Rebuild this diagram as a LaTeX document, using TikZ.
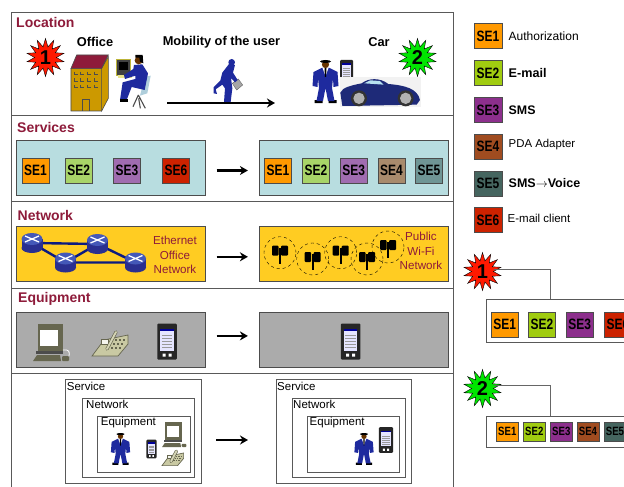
\documentclass[tikz,border=0pt]{standalone}
\usepackage{fontspec}
\setmainfont{Liberation Sans}
\newfontfamily\sefont[FakeStretch=0.8]{Liberation Sans}
\usetikzlibrary{arrows.meta,shapes.geometric}
\newcommand\fsz[1]{\fontsize{#1}{#1}\selectfont}
\definecolor{titleRed}{HTML}{8E1B3A}
\definecolor{suitBlue}{HTML}{1E2A9E}
\definecolor{routerBlue}{HTML}{2A2F8F}
\definecolor{routerTop}{HTML}{4458B8}
\definecolor{linkBlue}{HTML}{0C1A80}
\definecolor{carBlue}{HTML}{1E2A78}
\definecolor{brick}{HTML}{CC9900}
\definecolor{paleCyan}{HTML}{B8DDE0}
\definecolor{netYellow}{HTML}{FFCC22}
\definecolor{equipGray}{HTML}{ABABAB}
\definecolor{olive}{HTML}{66664F}
\definecolor{phoneTan}{HTML}{C9C9A3}
\definecolor{seOrange}{HTML}{FF9900}
\definecolor{seGreen}{HTML}{A0CC10}
\definecolor{sePurple}{HTML}{8C2F8C}
\definecolor{seBrown}{HTML}{A04C20}
\definecolor{seTeal}{HTML}{45655F}
\definecolor{seRed}{HTML}{CC2200}
\definecolor{paleGreen}{HTML}{A8D468}
\definecolor{palePurple}{HTML}{A06CB0}
\definecolor{paleBrown}{HTML}{A88A6C}
\definecolor{paleTeal}{HTML}{6F9595}
\tikzset{
    section/.style = {draw = black!65, minimum width = 441.5pt, inner sep = 0pt, outer sep = 0pt},
    panel/.style = {draw = black!70, minimum width = 189.2pt, minimum height = 55.4pt, inner sep = 0pt, outer sep = 0pt},
    nestbox/.style = {draw = black!65, inner sep = 0pt, outer sep = 0pt},
    sebox/.style = {draw = black!70, minimum width = 27pt, minimum height = 25pt, inner sep = 0pt,
        font = \sefont\bfseries\fsz{15}},
    smallse/.style = {draw = black!70, minimum width = 22pt, minimum height = 19pt, inner sep = 0pt,
        font = \sefont\bfseries\fsz{12}},
    heading/.style = {anchor = west, inner sep = 0pt, text = titleRed, font = \bfseries\fsz{14}},
    caption/.style = {inner sep = 0pt, font = \bfseries\fsz{12.8}},
    legend/.style = {anchor = west, inner sep = 0pt},
    nestlabel/.style = {anchor = west, inner sep = 0pt, font = \fsz{11.5}},
    nettext/.style = {align = center, inner sep = 0pt, text = titleRed, font = \fontsize{11.6}{14.6}\selectfont},
    burst/.style = {star, star points = 14, star point ratio = 1.75, minimum size = 38pt, inner sep = 0pt,
        draw = black, font = \bfseries\fsz{20}},
    flow/.style = {line width = 2.6pt, -{Stealth[length = 8pt, width = 9pt]}, shorten > = 11pt, shorten < = 11pt},
    cell/.style = {circle, draw, dashed, minimum size = 32pt, inner sep = 0pt},
    netlink/.style = {linkBlue, line width = 2.4pt},
    callout/.style = {draw = black!60, line width = .7pt},
    bluman/.pic = {
        \fill[black] (-11, 40) rectangle (-3, 43) (3, 40) rectangle (11, 43);
        \fill[suitBlue]
            (-4, 8) -- (4, 8) -- (12, 12) -- (13, 26) -- (8, 27) -- (7.5, 18) -- (6.5, 28) -- (9, 41)
            -- (2.5, 41) -- (0, 28) -- (-2.5, 41) -- (-9, 41) -- (-6.5, 28) -- (-7.5, 18) -- (-8, 27)
            -- (-13, 26) -- (-12, 12) -- cycle;
        \fill[white] (-3, 8) -- (3, 8) -- (0, 16) -- cycle;
        \fill[black] (-1, 8) -- (1, 8) -- (.5, 17) -- (-.5, 17) -- cycle;
        \fill[black!60!orange] (0, 4.5) circle [radius = 3.6];
        \fill[black] (0, 1.5) ellipse [x radius = 5.5, y radius = 1.5];
    },
    handheld/.pic = {
        \fill[black!85, rounded corners = 1pt] (-6.5, -12) rectangle (6.5, 12);
        \fill[blue!10!white] (-4.5, -8.5) rectangle (4.5, 6);
        \fill[blue!60!black] (-4.5, -8.5) rectangle (4.5, -7);
        \foreach \rowy in {-4, -2, 0, 2, 4}
            \draw[black!40, line width = .3pt] (-3.5, \rowy) -- (3.5, \rowy);
        \fill[white] (-3, 8) rectangle (-1, 10) (1, 8) rectangle (3, 10);
    },
    desktop/.pic = {
        \fill[olive] (5, 0) rectangle (30, 27);
        \fill[white] (7, 6) rectangle (25, 22);
        \fill[black!70] (3, 27) rectangle (30, 30);
        \fill[olive] (0, 37) -- (4, 31) -- (27, 31) -- (28, 37) -- cycle;
        \draw[white, line width = .8pt] (30, 26) .. controls (36, 25) and (37, 28) .. (36, 32);
        \fill[olive, rounded corners = 1pt] (29, 32) rectangle (36, 37);
    },
    deskphone/.pic = {
        \fill[phoneTan, draw = olive, line width = .7pt]
            (0, 26) -- (12, 10) -- (36, 5) -- (36, 14) -- (26, 26) -- cycle;
        \foreach \keyx in {19, 23, 27, 31}
            \foreach \keyy in {10, 14, 18}
                \fill[olive] (\keyx - \keyy * .5 + 5, \keyy - .7) rectangle ++(2.3, 1.4);
        \fill[white!80!phoneTan, draw = olive, line width = .4pt] (9, 9) rectangle (16, 14);
        \draw[olive, line width = 3.2pt, line cap = round] (15, 19) -- (24, 2);
        \draw[phoneTan!80!white, line width = 1.9pt, line cap = round] (15, 19) -- (24, 2);
    },
    router/.pic = {
        \fill[routerBlue] (-10.5, -4) rectangle (10.5, 5);
        \fill[routerBlue] (0, 5) ellipse [x radius = 10.5, y radius = 5];
        \fill[routerTop] (0, -4) ellipse [x radius = 10.5, y radius = 6];
        \draw[white, line width = 1.3pt] (-7, -7) -- (7, -1) (-7, -1) -- (7, -7);
    },
    antenna/.pic = {
        \fill[black, rounded corners = 1pt] (-8, -7) rectangle (-1.5, 3) (1, -7) rectangle (8, 3);
        \draw[black, line width = 1.6pt] (0, -5) -- (0, 11);
    },
}
\begin{document}
\begin{tikzpicture}[x = 1pt, y = -1pt]
    \clip (0, 0) rectangle (624, 487);
    \fill[white] (0, 0) rectangle (624, 487);

    % sections of the left column
    \node[section, minimum height = 103.5pt] (secLocation) at (232.25, 63.75) {};
    \node[section, minimum height = 85.5pt] (secServices) at (232.25, 158.25) {};
    \node[section, minimum height = 87pt] (secNetwork) at (232.25, 244.5) {};
    \node[section, minimum height = 85pt] (secEquipment) at (232.25, 330.5) {};
    \node[section, minimum height = 137pt] (secNested) at (232.25, 441.5) {};
    \node[heading] (titleLocation) at (16, 22.5) {Location};
    \node[heading] (titleServices) at (17, 127) {Services};
    \node[heading] (titleNetwork) at (17.5, 215.5) {Network};
    \node[heading] (titleEquipment) at (18, 299) {Equipment};

    % location
    \node[burst, fill = red!80!orange] (burstOffice) at (45.5, 57.5) {1};
    \node[burst, fill = green!90!black] (burstCar) at (417.5, 57.5) {2};
    \node[caption] (lblOffice) at (95, 42) {Office};
    \node[caption] (lblMobility) at (221.5, 42) {Mobility of the user};
    \node[caption] (lblCar) at (379, 42) {Car};
    \begin{scope}[shift = {(60, 45)}, x = .3333pt, y = -.3333pt]
        \fill[brick, draw = black!70, line width = .6pt]
            (33, 70) -- (125, 70) -- (125, 198) -- (33, 198) -- cycle
            (125, 70) -- (145, 35) -- (145, 160) -- (125, 198) -- cycle;
        \fill[titleRed, draw = black!70, line width = .6pt] (33, 70) -- (50, 30) -- (145, 30) -- (125, 70) -- cycle;
        \draw[black!70, line width = .6pt] (68, 198) -- (68, 163) -- (88, 163) -- (88, 198);
        \foreach \rowy in {88, 108, 128}
            \foreach \colx in {42, 62, 82, 102}
                \draw[black!70, line width = .5pt] (\colx, \rowy - 8) -- (\colx, \rowy) -- (\colx + 11, \rowy);
        % seated user
        \fill[black!75, draw = black!30!yellow, line width = .5pt] (170, 42) rectangle (210, 92);
        \fill[black] (178, 52) rectangle (205, 75);
        \fill[black!20!yellow!50!white] (175, 90) rectangle (216, 98);
        \fill[cyan!25!white!85!black] (255, 95) -- (272, 92) -- (262, 145) -- (240, 152) -- cycle;
        \draw[black!70, line width = 1.1pt] (235, 150) -- (219, 185) (235, 150) -- (256, 190) (236, 160) -- (241, 190);
        \fill[suitBlue] (222, 60) -- (247, 58) -- (264, 85) -- (254, 135) -- (215, 126) -- (200, 165) -- (180, 165)
            -- (188, 112) -- (226, 102) -- (226, 92) -- (195, 102) -- (192, 90) -- (220, 72) -- cycle;
        \fill[black] (180, 163) rectangle (205, 172);
        \fill[black!60!orange] (236, 46) circle [radius = 12];
        \fill[black] (226, 30) -- (248, 30) -- (250, 55) -- (240, 50) -- (238, 38) -- (226, 38) -- cycle;
    \end{scope}
    \begin{scope}[shift = {(205, 50)}, x = .3333pt, y = -.3333pt]
        \fill[black!35, draw = black!60, line width = .4pt] (82, 100) -- (100, 87) -- (113, 105) -- (95, 120) -- cycle;
        \fill[suitBlue] (72, 42) -- (90, 45) -- (84, 68) -- (98, 90) -- (90, 97) -- (78, 84) -- (82, 115) -- (77, 156)
            -- (57, 156) -- (60, 115) -- (52, 104) -- (32, 118) -- (36, 132) -- (26, 130) -- (26, 112) -- (46, 92)
            -- (52, 68) -- cycle;
        \fill[suitBlue] (80, 37) circle [radius = 10];
    \end{scope}
    \coordinate (mobStart) at (167, 103);
    \coordinate (mobEnd) at (275, 103);
    \draw[line width = 2.6pt, -{Stealth[length = 8pt, width = 9pt]}] (mobStart) -- (mobEnd);
    \pic at (325.5, 60) {bluman};
    \pic at (346.5, 72) {handheld};
    \begin{scope}[shift = {(305, 50)}, x = .3333pt, y = -.3333pt]
        \fill[black!5] (105, 82) rectangle (347, 172);
        \fill[carBlue] (106, 128) .. controls (112, 112) and (140, 106) .. (170, 100)
            .. controls (190, 84) and (225, 82) .. (250, 102)
            .. controls (300, 106) and (338, 116) .. (345, 150)
            -- (335, 164) -- (112, 168) -- cycle;
        \fill[black!15!cyan!30!white] (178, 100) -- (196, 91) -- (225, 93) -- (236, 104) -- cycle;
        \foreach \wheelx in {162, 302} {
            \fill[black!80] (\wheelx, 145) circle [radius = 24];
            \fill[black!30] (\wheelx, 145) circle [radius = 17];
        }
    \end{scope}

    % services
    \node[panel, fill = paleCyan] (servOld) at (111, 167.5) {};
    \node[panel, fill = paleCyan] (servNew) at (353.5, 167.5) {};
    \foreach \idx/\shade/\px in {1/seOrange/35.5, 2/paleGreen/78.7, 3/palePurple/127, 6/seRed/176}
        \node[sebox, fill = \shade] (servOld\idx) at (\px, 170.5) {SE\idx};
    \foreach \idx/\shade/\px in {1/seOrange/278, 2/paleGreen/316, 3/palePurple/353.7, 4/paleBrown/391.5, 5/paleTeal/429}
        \node[sebox, fill = \shade] (servNew\idx) at (\px, 170.5) {SE\idx};
    \draw[flow] ([yshift = -3pt]servOld.east) -- ([yshift = -3pt]servNew.west);

    % network
    \node[panel, fill = netYellow] (netOld) at (111, 253.8) {};
    \node[panel, fill = netYellow] (netNew) at (353.5, 253.8) {};
    \coordinate (routerA) at (32, 243);
    \coordinate (routerB) at (65.5, 262.5);
    \coordinate (routerC) at (97.5, 244);
    \coordinate (routerD) at (135.5, 262.5);
    \draw[netlink] (routerA) -- (routerC) (routerA) -- (routerB) (routerB) -- (routerC)
        (routerB) -- (routerD) (routerC) -- (routerD);
    \foreach \rname in {routerA, routerB, routerC, routerD}
        \pic at (\rname) {router};
    \node[nettext] (lblEthernet) at (175, 255) {Ethernet\\Office\\Network};
    \foreach \cname/\cx/\cy in {cellA/280/252.7, cellB/312.7/259, cellC/340.7/252.7, cellD/367/259, cellE/388/247} {
        \node[cell] (\cname) at (\cx, \cy) {};
        \pic at (\cname) {antenna};
    }
    \node[nettext] (lblPublic) at (421, 251) {Public\\Wi-Fi\\Network};
    \draw[flow] ([yshift = -3pt]netOld.east) -- ([yshift = -3pt]netNew.west);

    % equipment
    \node[panel, fill = equipGray] (equipOld) at (111, 339.4) {};
    \node[panel, fill = equipGray] (equipNew) at (353.5, 339.4) {};
    \pic at (33, 324) {desktop};
    \pic at (92, 330) {deskphone};
    \pic[scale = 1.5] at (167, 341.5) {handheld};
    \pic[scale = 1.5] at (350.5, 341.5) {handheld};
    \draw[flow] ([yshift = 3.5pt]equipOld.east) -- ([yshift = 3.5pt]equipNew.west);

    % nested boxes
    \node[nestbox, minimum width = 135.7pt, minimum height = 104pt] (serviceOld) at (132.85, 431) {};
    \node[nestbox, minimum width = 112.3pt, minimum height = 79.3pt] (networkOld) at (137.85, 437.35) {};
    \node[nestbox, minimum width = 92.7pt, minimum height = 55.7pt] (deviceOld) at (143.35, 443.85) {};
    \node[nestbox, minimum width = 135pt, minimum height = 104pt] (serviceNew) at (343.2, 431) {};
    \node[nestbox, minimum width = 113.3pt, minimum height = 79.3pt] (networkNew) at (348.35, 437.35) {};
    \node[nestbox, minimum width = 92.3pt, minimum height = 55.7pt] (deviceNew) at (353.15, 443.85) {};
    \node[nestlabel] (lblServiceOld) at (66.7, 386) {Service};
    \node[nestlabel] (lblNetworkOld) at (86, 404.7) {Network};
    \node[nestlabel] (lblDeviceOld) at (100.7, 422.3) {Equipment};
    \node[nestlabel] (lblServiceNew) at (277, 386) {Service};
    \node[nestlabel] (lblNetworkNew) at (293, 404.7) {Network};
    \node[nestlabel] (lblDeviceNew) at (309.5, 422.3) {Equipment};
    \pic[scale = .74] at (120.5, 433) {bluman};
    \pic[scale = .78] at (151.5, 449) {handheld};
    \pic[scale = .68] at (162, 422) {desktop};
    \pic[scale = .6] at (162, 450) {deskphone};
    \pic[scale = .74] at (364, 433) {bluman};
    \pic[scale = 1.08] at (386, 440) {handheld};
    \draw[flow, shorten < = 15.3pt, shorten > = 27.7pt] ([yshift = -9pt]serviceOld.east) -- ([yshift = -9pt]serviceNew.west);

    % legend
    \foreach \idx/\shade/\py in {1/seOrange/36, 2/seGreen/73, 3/sePurple/110, 4/seBrown/146.5, 5/seTeal/183.5, 6/seRed/220}
        \node[sebox, fill = \shade, minimum width = 28pt] (legendBox\idx) at (488, \py) {SE\idx};
    \node[legend, font = \fsz{12}] (lblAuth) at (508.5, 36.5) {Authorization};
    \node[legend, font = \bfseries\fsz{12.6}] (lblMail) at (508.5, 73) {E-mail};
    \node[legend, font = \bfseries\fsz{12.4}] (lblSms) at (508.5, 110) {SMS};
    \node[legend, font = \fsz{11.4}] (lblPda) at (508.5, 145) {PDA Adapter};
    \node[legend, font = \bfseries\fsz{12.5}] (lblVoice) at (508.5, 183) {SMS$\rightarrow$Voice};
    \node[legend, font = \fsz{11.5}] (lblClient) at (507.5, 218.5) {E-mail client};

    % bursts with their service sets
    \node[burst, fill = red!80!orange] (burstOne) at (482.5, 271.5) {1};
    \node[burst, fill = green!90!black] (burstTwo) at (482.5, 388.5) {2};
    \node[nestbox, minimum width = 160pt, minimum height = 43pt, anchor = north west] (setOne) at (485.7, 299.3) {};
    \node[nestbox, minimum width = 160pt, minimum height = 31pt, anchor = north west] (setTwo) at (485.7, 415.7) {};
    \foreach \idx/\shade/\px in {1/seOrange/504.7, 2/seGreen/542, 3/sePurple/579.8, 6/seRed/618}
        \node[sebox, fill = \shade] (setOne\idx) at (\px, 324.2) {SE\idx};
    \foreach \idx/\shade/\px in {1/seOrange/507.3, 2/seGreen/534.3, 3/sePurple/561.3, 4/seBrown/588, 5/seTeal/615}
        \node[smallse, fill = \shade] (setTwo\idx) at (\px, 431.3) {SE\idx};
    \coordinate (dropOne) at (550.7, 299.3);
    \coordinate (dropTwo) at (550.7, 415.7);
    \draw[callout] ([yshift = 2.5pt]burstOne.east) -| (dropOne);
    \draw[callout] ([yshift = 3pt]burstTwo.east) -| (dropTwo);
\end{tikzpicture}
\end{document}
